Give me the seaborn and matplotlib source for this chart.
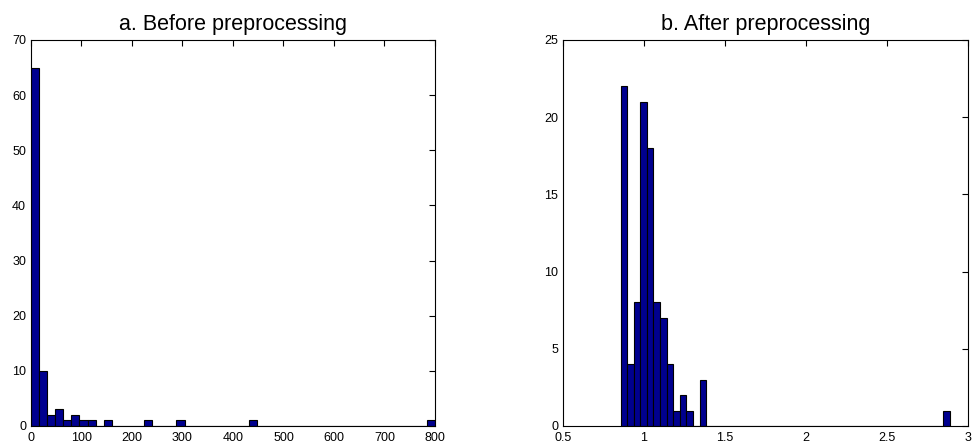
import numpy as np
import pandas as pd
import matplotlib
matplotlib.use("Agg")
import matplotlib.pyplot as plt
import seaborn as sns

# ---- data ----
before_range = (0.0, 800.0)
before_counts = [65, 10, 2, 3, 1, 2, 1, 1, 0, 1,
                 0, 0, 0, 0, 1, 0, 0, 0, 1, 0,
                 0, 0, 0, 0, 0, 0, 0, 1, 0, 0,
                 0, 0, 0, 0, 0, 0, 0, 0, 0, 0,
                 0, 0, 0, 0, 0, 0, 0, 0, 0, 1]

after_range = (0.855, 2.887)
after_counts = [22, 4, 8, 21, 18, 8, 7, 4, 1, 2,
                1, 0, 3, 0, 0, 0, 0, 0, 0, 0,
                0, 0, 0, 0, 0, 0, 0, 0, 0, 0,
                0, 0, 0, 0, 0, 0, 0, 0, 0, 0,
                0, 0, 0, 0, 0, 0, 0, 0, 0, 1]

titles = ["a. Before preprocessing", "b. After preprocessing"]
left_xticks = [0, 100, 200, 300, 400, 500, 600, 700, 800]
left_yticks = [0, 10, 20, 30, 40, 50, 60, 70]
right_xticks = [0.5, 1, 1.5, 2, 2.5, 3]
right_xlabels = ["0.5", "1", "1.5", "2", "2.5", "3"]
right_yticks = [0, 5, 10, 15, 20, 25]

sns.set_style("white")
plt.rcParams["font.family"] = ["Liberation Sans", "DejaVu Sans"]

fig = plt.figure(figsize=(9.75, 4.46), dpi=100)
W, H = 975, 446
top, bottom = 40, 426
ax1 = fig.add_axes([31 / W, 1 - bottom / H, (435 - 31) / W, (bottom - top) / H])
ax2 = fig.add_axes([563 / W, 1 - bottom / H, (968 - 563) / W, (bottom - top) / H])

face = "#00008F"

def draw(ax, rng, counts):
    n = len(counts)
    edges = np.linspace(rng[0], rng[1], n + 1)
    centers = (edges[:-1] + edges[1:]) / 2
    df = pd.DataFrame({"x": centers, "w": np.asarray(counts, dtype=float)})
    sns.histplot(data=df, x="x", weights="w", bins=n, binrange=rng, ax=ax,
                 color=face, alpha=1.0, edgecolor="black", linewidth=0.8)

draw(ax1, before_range, before_counts)
draw(ax2, after_range, after_counts)

ax1.set_xlim(0, 800)
ax1.set_ylim(0, 70)
ax1.set_xticks(left_xticks)
ax1.set_yticks(left_yticks)

ax2.set_xlim(0.5, 3)
ax2.set_ylim(0, 25)
ax2.set_xticks(right_xticks)
ax2.set_xticklabels(right_xlabels)
ax2.set_yticks(right_yticks)

for ax, t in zip([ax1, ax2], titles):
    ax.set_title(t, fontsize=15.5, pad=7, color="black")
    ax.set_xlabel("")
    ax.set_ylabel("")
    ax.tick_params(direction="in", top=True, right=True, length=4,
                   width=0.8, labelsize=9, color="black",
                   labelcolor="black")
    ax.tick_params(axis="x", pad=4.5)
    ax.tick_params(axis="y", pad=3.5)
    for s in ax.spines.values():
        s.set_color("black")
        s.set_linewidth(0.8)
        s.set_visible(True)

fig.savefig("out.png", dpi=100)
